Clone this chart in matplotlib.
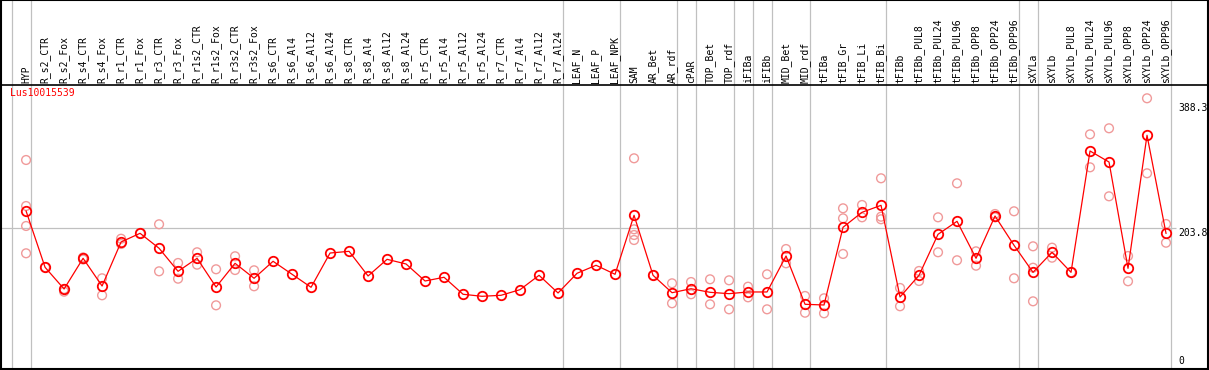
import matplotlib
matplotlib.use('Agg')
import matplotlib.pyplot as plt
import numpy as np

# sample names along the x axis
samples = [
    'HYP',
    'R_s2_CTR', 'R_s2_Fox', 'R_s4_CTR', 'R_s4_Fox', 'R_r1_CTR', 'R_r1_Fox',
    'R_r3_CTR', 'R_r3_Fox', 'R_r1s2_CTR', 'R_r1s2_Fox', 'R_r3s2_CTR', 'R_r3s2_Fox',
    'R_s6_CTR', 'R_s6_Al4', 'R_s6_Al12', 'R_s6_Al24',
    'R_s8_CTR', 'R_s8_Al4', 'R_s8_Al12', 'R_s8_Al24',
    'R_r5_CTR', 'R_r5_Al4', 'R_r5_Al12', 'R_r5_Al24',
    'R_r7_CTR', 'R_r7_Al4', 'R_r7_Al12', 'R_r7_Al24',
    'LEAF_N', 'LEAF_P', 'LEAF_NPK',
    'SAM', 'AR_Bet', 'AR_rdf',
    'cPAR',
    'TOP_Bet', 'TOP_rdf',
    'iFIBa',
    'iFIBb',
    'MID_Bet', 'MID_rdf',
    'tFIBa', 'tFIB_Gr', 'tFIB_Li', 'tFIB_Bi',
    'tFIBb', 'tFIBb_PUL8', 'tFIBb_PUL24', 'tFIBb_PUL96',
    'tFIBb_OPP8', 'tFIBb_OPP24', 'tFIBb_OPP96',
    'sXYLa',
    'sXYLb', 'sXYLb_PUL8', 'sXYLb_PUL24', 'sXYLb_PUL96',
    'sXYLb_OPP8', 'sXYLb_OPP24', 'sXYLb_OPP96',
]

# mean expression per sample
means = [
    229.5,
    146.4, 114.4, 159.7, 118.8, 183.8, 196.6,
    174.5, 140.5, 159.7, 117.3, 152.3, 130.2,
    155.3, 136.1, 116.9, 167.5,
    170.0, 133.6, 158.2, 151.3,
    126.2, 131.7, 106.6, 103.6,
    105.1, 113.4, 134.6, 108.5,
    137.6, 149.4, 136.1,
    223.2, 134.6, 108.9,
    114.8,
    109.5, 107.5,
    110.0,
    110.0,
    163.1, 91.8,
    90.8, 205.5, 227.6, 237.9,
    102.6, 134.6, 195.1, 214.3,
    159.7, 222.1, 178.9,
    139.0,
    168.6, 139.0, 318.1, 301.8,
    144.9, 341.3, 196.6,
]

# individual replicate values (light circles)
replicates = [
    [304.8, 236.9, 207.4, 167.1],
    [146.4], [114.4, 110.4], [161.0, 158.0], [130.2, 105.1], [188.6, 180.8], [196.6],
    [209.9, 140.5], [152.8, 129.6], [168.6, 150.3], [143.5, 90.3], [162.7, 142.4], [142.0, 118.4],
    [], [], [], [],
    [], [], [], [],
    [], [], [], [],
    [], [], [], [],
    [], [], [],
    [307.3, 202.5, 194.1, 186.7], [134.6], [122.8, 93.3],
    [124.7, 106.6],
    [128.7, 91.8], [127.2, 84.4],
    [117.8, 102.1],
    [136.1, 84.4],
    [173.4, 152.3], [104.1, 79.4],
    [100.7, 78.5], [233.5, 218.7, 166.1], [238.4, 220.2], [277.8, 221.1, 217.3],
    [115.9, 88.9], [141.0, 126.2], [220.2, 168.6], [270.4, 156.8],
    [170.0, 148.8], [225.1, 220.2], [229.1, 130.2],
    [177.4, 145.8, 96.2],
    [175.4, 160.6], [139.0], [342.7, 294.0], [351.6, 251.2],
    [163.1, 125.8], [395.9, 285.2], [210.3, 182.7],
]

group_sizes = [1, 28, 3, 3, 1, 2, 1, 1, 2, 4, 7, 1, 7]
gene_id = 'Lus10015539'
ref_values = [388.3, 203.8, 0]

RED = '#ff0000'
PINK = '#f09a9a'
GRID = '#c0c0c0'
FONT = 'DejaVu Sans Mono'

W, H = 1209, 370
fig = plt.figure(figsize=(W / 100, H / 100), dpi=100)

head_px = 85
ax_head = fig.add_axes([1 / W, (H - head_px) / H, 1207 / W, head_px / H])
ax = fig.add_axes([1 / W, 1 / H, 1207 / W, (head_px - 1 - 0) / H * 0 + 284 / H])

x = np.arange(len(samples))
xlim = (-1.32, 62.21)
for a in (ax, ax_head):
    a.set_xlim(*xlim)
    a.set_xticks([])
    a.set_yticks([])
    for s in a.spines.values():
        s.set_color('black')
        s.set_linewidth(1.5)
ax.spines['top'].set_linewidth(1.2)
ax_head.spines['bottom'].set_visible(False)
ax_head.set_ylim(0, 1)
ax.set_ylim(-3.7, 415.5)

# group separator lines
bounds = [-0.75] + list(np.cumsum(group_sizes) - 1 + 0.25)
for b in bounds:
    ax.axvline(b, color=GRID, lw=0.9, zorder=1)
    ax_head.axvline(b, color=GRID, lw=0.9, zorder=1)

# reference line
ax.hlines(203.8, xlim[0], 60.53, color=GRID, lw=0.9, zorder=1)

# replicate points
for i, reps in enumerate(replicates):
    if reps:
        ax.scatter([x[i]] * len(reps), reps, s=40, facecolors='none',
                   edgecolors=PINK, linewidths=1.0, zorder=2)

# mean profile
ax.plot(x, means, color=RED, lw=0.9, zorder=3)
ax.plot(x, means, 'o', ms=6.8, mfc='none', mec=RED, mew=1.3, zorder=4)

# sample labels in header
for i, name in enumerate(samples):
    ax_head.text(x[i], 0.02, name, rotation=90, ha='center', va='bottom',
                 fontsize=7, family=FONT, color='black')

ax.text(-0.85, 411, gene_id, ha='left', va='top', fontsize=7, family=FONT, color=RED)

# value labels on right
for v in ref_values:
    ax.text(60.65, v, f'{v:g}' if v == 0 else f'{v}', ha='left',
            va='bottom' if v == 0 else 'top', fontsize=7, family=FONT, color='black')

fig.savefig('out.png', dpi=100)
